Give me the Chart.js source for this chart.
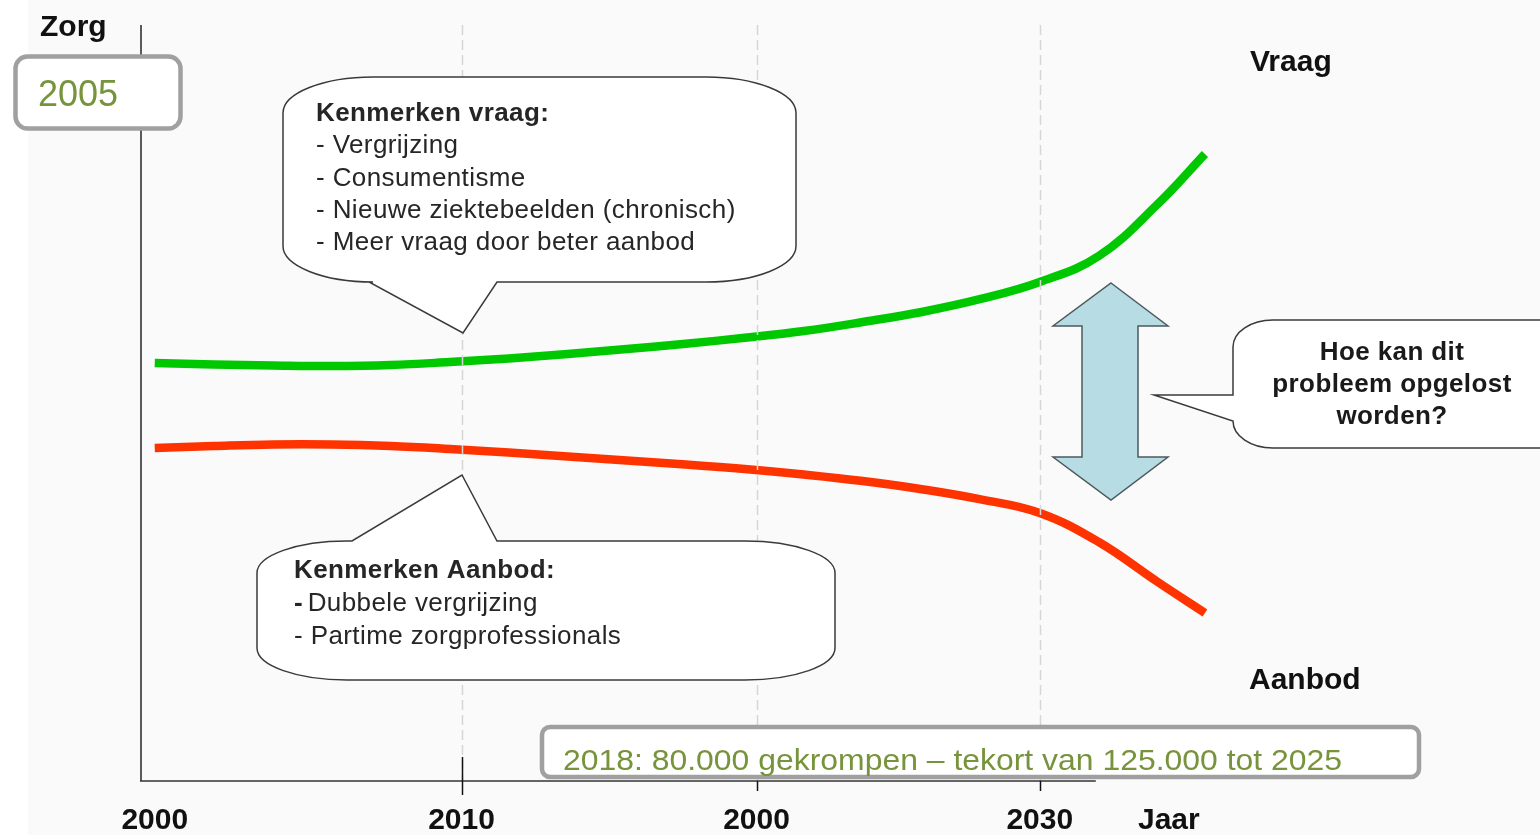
<!DOCTYPE html>
<html lang="nl">
<head>
<meta charset="utf-8">
<title>Zorg: vraag en aanbod</title>
<script src="https://cdn.jsdelivr.net/npm/chart.js@4/dist/chart.umd.min.js"></script>
<style>
  html, body { margin: 0; padding: 0; background: #fafafa; }
  #wrap { position: relative; width: 1540px; height: 835px; }
</style>
</head>
<body>
<div id="wrap"><canvas id="grafiek"></canvas></div>
<script>
var jaren  = [2000, 2002, 2004, 2006, 2008, 2010, 2012, 2014, 2016, 2018, 2020, 2022, 2024, 2026, 2028, 2030, 2032, 2034, 2035.6];
var vraag  = [55.29, 55.09, 54.96, 54.89, 55.03, 55.42, 55.89, 56.48, 57.14, 57.84, 58.62, 59.52, 60.71, 62.04, 63.76, 66.01, 69.44, 76.32, 82.94];
var aanbod = [44.05, 44.31, 44.51, 44.51, 44.31, 43.92, 43.45, 42.92, 42.39, 41.87, 41.27, 40.54, 39.68, 38.60, 37.25, 35.45, 31.61, 26.32, 22.22];

// de as-labels staan niet op gelijke afstand (en "2000" staat er twee keer)
var tickJaren  = [2000, 2010.4, 2020.4, 2030];
var tickLabels = ["2000", "2010", "2000", "2030"];
var asEinde = 2031.9;

var tekstVraag  = ["Kenmerken vraag:", "- Vergrijzing", "- Consumentisme", "- Nieuwe ziektebeelden (chronisch)", "- Meer vraag door beter aanbod"];
var tekstAanbod = ["Kenmerken Aanbod:", "Dubbele vergrijzing", "- Partime zorgprofessionals"];
var tekstVraagStuk = ["Hoe kan dit", "probleem opgelost", "worden?"];

var FONT = '"Liberation Sans", Arial, sans-serif';
var GROEN_TEKST = "#77933c";

function punten(ys) {
  return jaren.map(function (j, i) { return { x: j, y: ys[i] }; });
}

// ballon met afgeronde hoeken en een punt (wedge) aan een zijde
function ballon(ctx, L, T, R, B, rx, ry, zijde, pts) {
  var P = Math.PI;
  ctx.beginPath();
  ctx.moveTo(L + rx, T);
  if (zijde === "top") pts.forEach(function (p) { ctx.lineTo(p[0], p[1]); });
  ctx.lineTo(R - rx, T);
  ctx.ellipse(R - rx, T + ry, rx, ry, 0, -P / 2, 0);
  ctx.lineTo(R, B - ry);
  ctx.ellipse(R - rx, B - ry, rx, ry, 0, 0, P / 2);
  if (zijde === "bottom") pts.forEach(function (p) { ctx.lineTo(p[0], p[1]); });
  ctx.lineTo(L + rx, B);
  ctx.ellipse(L + rx, B - ry, rx, ry, 0, P / 2, P);
  if (zijde === "left") pts.forEach(function (p) { ctx.lineTo(p[0], p[1]); });
  ctx.lineTo(L, T + ry);
  ctx.ellipse(L + rx, T + ry, rx, ry, 0, P, P * 1.5);
  ctx.closePath();
  ctx.fillStyle = "#ffffff";
  ctx.fill();
  ctx.strokeStyle = "#3a3a3a";
  ctx.lineWidth = 1.5;
  ctx.stroke();
}

function kader(ctx, L, T, R, B, r) {
  ctx.beginPath();
  ctx.roundRect(L, T, R - L, B - T, r);
  ctx.fillStyle = "#ffffff";
  ctx.fill();
  ctx.strokeStyle = "#a0a0a0";
  ctx.lineWidth = 4.5;
  ctx.stroke();
}

var schets = {
  id: "schets",
  beforeDraw: function (chart) {
    var ctx = chart.ctx;
    ctx.save();
    ctx.fillStyle = "#fafafa";
    ctx.fillRect(0, 0, chart.width, chart.height);
    ctx.fillStyle = "#ffffff";
    ctx.fillRect(0, 0, 28, chart.height);
    ctx.restore();
  },
  afterDatasetsDraw: function (chart) {
    var ctx = chart.ctx, xs = chart.scales.x, a = chart.chartArea;
    ctx.save();
    // gestippelde hulplijnen liggen over de curves
    ctx.strokeStyle = "#d6d6d6";
    ctx.lineWidth = 1.5;
    ctx.setLineDash([10, 5]);
    tickJaren.slice(1).forEach(function (t) {
      var x = Math.round(xs.getPixelForValue(t)) + 0.5;
      ctx.beginPath();
      ctx.moveTo(x, a.top);
      ctx.lineTo(x, a.bottom);
      ctx.stroke();
    });
    ctx.setLineDash([]);

    // assen
    ctx.strokeStyle = "#5a5a5a";
    ctx.lineWidth = 2;
    ctx.beginPath();
    ctx.moveTo(a.left + 1, a.top);
    ctx.lineTo(a.left + 1, a.bottom);
    ctx.stroke();
    ctx.strokeStyle = "#333333";
    ctx.lineWidth = 1.5;
    ctx.beginPath();
    ctx.moveTo(a.left, a.bottom);
    ctx.lineTo(xs.getPixelForValue(asEinde), a.bottom);
    ctx.stroke();

    // streepjes
    ctx.strokeStyle = "#111111";
    tickJaren.slice(1).forEach(function (t, i) {
      var x = Math.round(xs.getPixelForValue(t)) + 0.5;
      ctx.beginPath();
      ctx.moveTo(x, i === 0 ? a.bottom - 24 : a.bottom);
      ctx.lineTo(x, a.bottom + (i === 0 ? 14 : 10));
      ctx.stroke();
    });

    // labels
    ctx.fillStyle = "#111111";
    ctx.font = "bold 30px " + FONT;
    ctx.textAlign = "center";
    ctx.textBaseline = "alphabetic";
    tickJaren.forEach(function (t, i) {
      ctx.fillText(tickLabels[i], xs.getPixelForValue(t), a.bottom + 48);
    });
    ctx.textAlign = "left";
    ctx.fillText("Jaar", 1138, a.bottom + 48);
    ctx.fillText("Zorg", 40, 36);
    ctx.fillText("Vraag", 1250, 71);
    ctx.fillText("Aanbod", 1249, 689);
    ctx.restore();
  },
  afterDraw: function (chart) {
    var ctx = chart.ctx;
    ctx.save();

    // ballon vraag
    ballon(ctx, 283, 77, 796, 282, 90, 36, "bottom", [[497, 282], [463, 333], [369, 282]]);
    ctx.fillStyle = "#262626";
    ctx.letterSpacing = "0.4px";
    tekstVraag.forEach(function (r, i) {
      ctx.font = (i === 0 ? "bold " : "") + "26px " + FONT;
      ctx.fillText(r, 316, 121 + i * 32.3);
    });

    // ballon aanbod
    ballon(ctx, 257, 541, 835, 680, 90, 32, "top", [[352, 541], [462, 475], [497, 541]]);
    ctx.fillStyle = "#262626";
    ctx.font = "bold 26px " + FONT;
    ctx.fillText(tekstAanbod[0], 294, 578);
    ctx.fillText("-", 294, 611);
    var w = ctx.measureText("- ").width;
    ctx.font = "26px " + FONT;
    ctx.fillText(tekstAanbod[1], 294 + w - 3, 611);
    ctx.fillText(tekstAanbod[2], 294, 644);

    // dubbele pijl
    ctx.beginPath();
    [[1111, 283], [1168, 326], [1138, 326], [1138, 457], [1168, 457], [1111, 500],
     [1053, 457], [1082, 457], [1082, 326], [1053, 326]].forEach(function (p, i) {
      if (i === 0) ctx.moveTo(p[0], p[1]); else ctx.lineTo(p[0], p[1]);
    });
    ctx.closePath();
    ctx.fillStyle = "#b7dce3";
    ctx.fill();
    ctx.strokeStyle = "#4c5a5e";
    ctx.lineWidth = 1.5;
    ctx.stroke();

    // ballon vraagstuk
    ballon(ctx, 1233, 320, 1590, 448, 40, 27, "left", [[1233, 421], [1154, 395], [1233, 395]]);
    ctx.fillStyle = "#1a1a1a";
    ctx.font = "bold 26px " + FONT;
    ctx.textAlign = "center";
    tekstVraagStuk.forEach(function (r, i) {
      ctx.fillText(r, 1392, 360 + i * 32);
    });
    ctx.letterSpacing = "0px";

    // kaders met groene tekst
    kader(ctx, 15.5, 56.5, 180.5, 128.5, 12);
    ctx.fillStyle = GROEN_TEKST;
    ctx.textAlign = "left";
    ctx.font = "36px " + FONT;
    ctx.fillText("2005", 38, 106);

    kader(ctx, 542, 727, 1419, 777, 8);
    ctx.fillStyle = GROEN_TEKST;
    ctx.font = "30px " + FONT;
    var zin = "2018: 80.000 gekrompen \u2013 tekort van 125.000 tot 2025";
    var sx = 779 / ctx.measureText(zin).width;
    ctx.translate(563, 770);
    ctx.scale(sx, 1);
    ctx.fillText(zin, 0, 0);
    ctx.restore();
  }
};

new Chart(document.getElementById("grafiek"), {
  type: "line",
  data: {
    datasets: [
      {
        label: "Vraag",
        data: punten(vraag),
        borderColor: "#00c800",
        borderWidth: 8.5,
        pointRadius: 0,
        tension: 0.4,
        fill: false
      },
      {
        label: "Aanbod",
        data: punten(aanbod),
        borderColor: "#ff3300",
        borderWidth: 8.5,
        pointRadius: 0,
        tension: 0.4,
        fill: false
      }
    ]
  },
  options: {
    responsive: true,
    maintainAspectRatio: false,
    animation: false,
    layout: { padding: { left: 140, right: 13.5, top: 25, bottom: 54 } },
    scales: {
      x: { type: "linear", min: 1999.5, max: 2046.5, display: false },
      y: { min: 0, max: 100, display: false }
    },
    plugins: {
      legend: { display: false },
      tooltip: { enabled: false }
    }
  },
  plugins: [schets]
});
</script>
</body>
</html>
